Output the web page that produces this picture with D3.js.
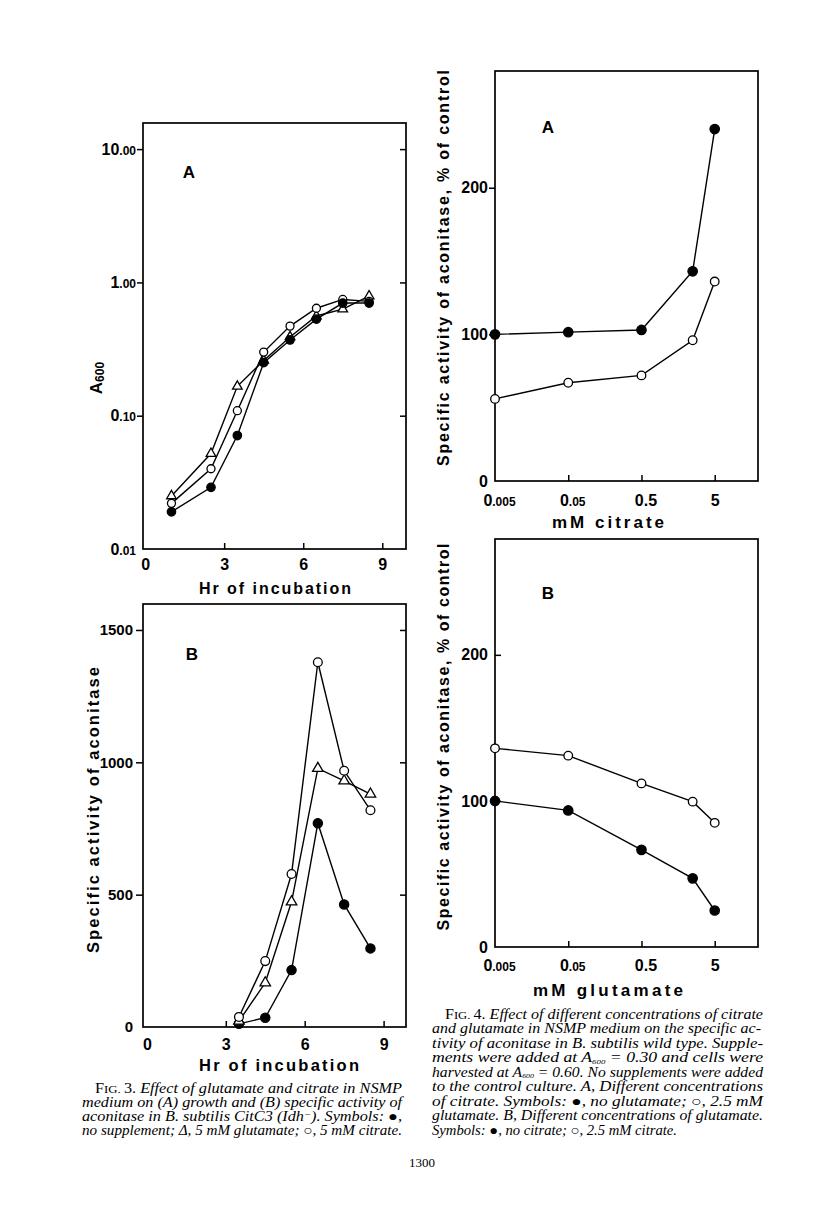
<!DOCTYPE html>
<html><head><meta charset="utf-8">
<script src="https://cdn.jsdelivr.net/npm/d3@7"></script>
<style>body{margin:0;background:#fff}</style>
</head><body><svg id="c" width="816" height="1227"></svg>
<script>
// ---------------- DATA ----------------
// Fig. 3A: growth (A600, log scale) vs hours of incubation
const fig3aHours = [1, 2.5, 3.5, 4.5, 5.5, 6.5, 7.5, 8.5];
const fig3aNoSupplement = [0.019, 0.029, 0.071, 0.25, 0.37, 0.53, 0.70, 0.70];
const fig3aGlutamate   = [0.025, 0.052, 0.166, 0.26, 0.39, 0.56, 0.63, 0.79];
const fig3aCitrate     = [0.022, 0.040, 0.109, 0.30, 0.47, 0.64, 0.745, 0.72];
const fig3aYTicks = [0.01, 0.1, 1, 10];
const fig3aYTickLabels = ["0.01", "0.10", "1.00", "10.00"];
const fig3XTicks = [0, 3, 6, 9];

// Fig. 3B: specific activity of aconitase vs hours
const fig3bHours = [3.5, 4.5, 5.5, 6.5, 7.5, 8.5];
const fig3bNoSupplement = [12, 35, 215, 770, 463, 297];
const fig3bGlutamate   = [22, 167, 473, 977, 930, 880];
const fig3bCitrate     = [38, 249, 578, 1378, 968, 819];
const fig3bYTicks = [0, 500, 1000, 1500];

// Fig. 4: specific activity (% of control) vs mM concentration (log)
const fig4Conc = [0.005, 0.05, 0.5, 2.5, 5];
const fig4XTicks = [0.005, 0.05, 0.5, 5];
const fig4XTickLabels = ["0.005", "0.05", "0.5", "5"];
const fig4YTicks = [0, 100, 200];
const fig4aNoGlutamate = [100, 101.5, 103, 143, 240];
const fig4aGlutamate   = [56, 67, 72, 96, 136];
const fig4bNoCitrate   = [100, 93.5, 66.5, 47, 25];
const fig4bCitrate     = [136, 131, 112, 99.5, 85];

// ---------------- DRAWING ----------------
const SANS = "'Liberation Sans', Arial, Helvetica, sans-serif";
const SERIF = "'Liberation Serif', 'Times New Roman', serif";
const svg = d3.select("#c");
svg.append("rect").attr("width", 816).attr("height", 1227).attr("fill", "#fff");

function splitNum(s) {
  const i = s.indexOf(".");
  if (i < 0) return [s, ""];
  const dec = s.slice(i);
  if (dec.length < 3) return [s, ""];
  return [s.slice(0, i), dec];
}

function styleAxis(g, fs) {
  fs = fs || 16;
  g.attr("font-family", SANS).attr("font-weight", "bold").attr("font-size", fs);
  g.select(".domain").remove();
  g.selectAll(".tick line").attr("stroke", "#000").attr("stroke-width", 1.5);
  g.selectAll(".tick text").attr("fill", "#000").each(function () {
    const t = d3.select(this);
    const [a, b] = splitNum(t.text());
    if (b) {
      t.text(null);
      t.append("tspan").text(a);
      t.append("tspan").attr("font-size", fs * 0.75).text(b);
    }
  });
}

function box(b) {
  svg.append("rect").attr("x", b.L).attr("y", b.T).attr("width", b.R - b.L).attr("height", b.B - b.T)
    .attr("fill", "none").attr("stroke", "#000").attr("stroke-width", 1.7);
}

function drawSeries(x, y, xs, list) {
  const g = svg.append("g");
  const line = d3.line().x(d => x(d.x)).y(d => y(d.y));
  list.forEach(s => {
    const data = xs.map((v, i) => ({ x: v, y: s.values[i] }));
    g.append("path").attr("d", line(data)).attr("fill", "none").attr("stroke", "#000").attr("stroke-width", 1.4);
  });
  list.forEach(s => {
    const data = xs.map((v, i) => ({ x: v, y: s.values[i] }));
    if (s.kind === "triangle") {
      g.selectAll(null).data(data).enter().append("path")
        .attr("d", d3.symbol().type(d3.symbolTriangle).size(s.size))
        .attr("transform", d => `translate(${x(d.x)},${y(d.y)})`)
        .attr("fill", "#fff").attr("stroke", "#000").attr("stroke-width", 1.3);
    } else {
      g.selectAll(null).data(data).enter().append("circle")
        .attr("cx", d => x(d.x)).attr("cy", d => y(d.y)).attr("r", s.size)
        .attr("fill", s.kind === "filled" ? "#000" : "#fff")
        .attr("stroke", "#000").attr("stroke-width", 1.3);
    }
  });
}

function text(x, y, str, opt) {
  const t = svg.append("text").attr("x", x).attr("y", y).text(str)
    .attr("font-family", opt.family || SANS).attr("font-weight", opt.weight || "bold")
    .attr("font-size", opt.size || 16).attr("text-anchor", opt.anchor || "middle").attr("fill", "#000");
  if (opt.rotate) t.attr("transform", `rotate(-90,${x},${y})`);
  if (opt.len) t.attr("textLength", opt.len).attr("lengthAdjust", opt.adjust || "spacing");
  return t;
}

// ===== Fig 3A =====
{
  const b = { L: 143, T: 123, R: 406, B: 549 };
  const x = d3.scaleLinear([-0.08, 9.9], [b.L, b.R]);
  const y = d3.scaleLog([0.01, 15.7], [b.B, b.T]);
  box(b);
  const gx = svg.append("g").attr("transform", `translate(0,${b.B})`)
    .call(d3.axisBottom(x).tickValues(fig3XTicks).tickSize(-6).tickPadding(10).tickFormat(d3.format("d")));
  styleAxis(gx);
  gx.selectAll(".tick").filter(d => d === 0).select("line").remove();
  const gy = svg.append("g").attr("transform", `translate(${b.L},0)`)
    .call(d3.axisLeft(y).tickValues(fig3aYTicks).tickSize(6).tickPadding(1)
      .tickFormat((d, i) => fig3aYTickLabels[i]));
  styleAxis(gy);
  gy.selectAll(".tick").filter(d => d === 0.01).select("line").remove();
  svg.append("g").attr("transform", `translate(${b.R},0)`)
    .call(d3.axisRight(y).tickValues(fig3aYTicks.slice(1)).tickSize(-6).tickFormat(""))
    .call(g => { g.select(".domain").remove(); g.selectAll("line").attr("stroke", "#000").attr("stroke-width", 1.5); });
  drawSeries(x, y, fig3aHours, [
    { values: fig3aGlutamate, kind: "triangle", size: 40 },
    { values: fig3aCitrate, kind: "open", size: 4 },
    { values: fig3aNoSupplement, kind: "filled", size: 4.2 }
  ]);
  text(189, 178, "A", { size: 17 });
  const a = text(102, 378, "A", { size: 17, rotate: true });
  a.append("tspan").attr("font-size", 12).attr("dy", 2).text("600");
  text(275, 594, "Hr of incubation", { size: 16, len: 152 });
}

// ===== Fig 3B =====
{
  const b = { L: 143, T: 604, R: 406, B: 1027 };
  const x = d3.scaleLinear([0, 10], [146.9, 409.9]);
  const y = d3.scaleLinear([0, 1600], [b.B, 603.5]);
  box(b);
  const gx = svg.append("g").attr("transform", `translate(0,${b.B})`)
    .call(d3.axisBottom(x).tickValues(fig3XTicks).tickSize(-6).tickPadding(12).tickFormat(d3.format("d")));
  styleAxis(gx);
  gx.selectAll(".tick").filter(d => d === 0).select("line").remove();
  const gy = svg.append("g").attr("transform", `translate(${b.L},0)`)
    .call(d3.axisLeft(y).tickValues(fig3bYTicks).tickSize(7).tickPadding(3).tickFormat(d3.format("d")));
  styleAxis(gy, 15);
  gy.selectAll(".tick").filter(d => d === 0).select("line").remove();
  svg.append("g").attr("transform", `translate(${b.R},0)`)
    .call(d3.axisRight(y).tickValues(fig3bYTicks.slice(1)).tickSize(-6).tickFormat(""))
    .call(g => { g.select(".domain").remove(); g.selectAll("line").attr("stroke", "#000").attr("stroke-width", 1.5); });
  drawSeries(x, y, fig3bHours, [
    { values: fig3bNoSupplement, kind: "filled", size: 4.6 },
    { values: fig3bGlutamate, kind: "triangle", size: 48 },
    { values: fig3bCitrate, kind: "open", size: 4.4 }
  ]);
  text(192, 660, "B", { size: 17 });
  text(99, 810, "Specific activity of aconitase", { size: 16.5, rotate: true, len: 286 });
  text(279, 1071, "Hr of incubation", { size: 16.5, len: 160 });
}

// ===== Fig 4A / 4B =====
function fig4Panel(b, yTop, leftTickSize, leftPad, series, label, labelY, xTitle, xTitleLen, xTitleY, yTitleY, yTitleLen, tickPad) {
  const x = d3.scaleLog([0.005, 19.5], [b.L, b.R]);
  const y = d3.scaleLinear([0, yTop], [b.B, b.T]);
  box(b);
  const gx = svg.append("g").attr("transform", `translate(0,${b.B})`)
    .call(d3.axisBottom(x).tickValues(fig4XTicks).tickSize(-6).tickPadding(tickPad)
      .tickFormat((d, i) => fig4XTickLabels[i]));
  styleAxis(gx);
  gx.selectAll(".tick text").attr("dx", (d, i) => i < 3 ? 4 : 0);
  gx.selectAll(".tick").filter(d => d === 0.005).select("line").remove();
  const gy = svg.append("g").attr("transform", `translate(${b.L},0)`)
    .call(d3.axisLeft(y).tickValues(fig4YTicks).tickSize(leftTickSize).tickPadding(leftPad).tickFormat(d3.format("d")));
  styleAxis(gy);
  gy.selectAll(".tick").filter(d => d === 0).select("line").remove();
  drawSeries(x, y, fig4Conc, series);
  text(548, labelY, label, { size: 17 });
  text(608, xTitleY, xTitle, { size: 17, len: xTitleLen });
  text(449, yTitleY, "Specific activity of aconitase, % of control", { size: 16, rotate: true, len: yTitleLen });
}
fig4Panel({ L: 495, T: 71, R: 758, B: 481 }, 279.6, 6, 1, [
  { values: fig4aNoGlutamate, kind: "filled", size: 4.7 },
  { values: fig4aGlutamate, kind: "open", size: 4.3 }
], "A", 133, "mM citrate", 112, 528, 268, 396, 14);
fig4Panel({ L: 495, T: 539, R: 758, B: 947 }, 279.3, -6, 7, [
  { values: fig4bNoCitrate, kind: "filled", size: 4.7 },
  { values: fig4bCitrate, kind: "open", size: 4.3 }
], "B", 599, "mM glutamate", 150, 996, 737, 387, 13);

// ---------------- CAPTIONS ----------------
function capLine(x, y, len, parts) {
  const t = svg.append("text").attr("x", x).attr("y", y).attr("font-family", SERIF)
    .attr("font-size", 14).attr("fill", "#000");
  parts.forEach(p => {
    const o = typeof p === "string" ? { t: p } : p;
    const s = t.append("tspan").text(o.t)
      .attr("font-style", o.up ? "normal" : "italic");
    if (o.size) s.attr("font-size", o.size);
    if (o.dy) s.attr("dy", o.dy);
  });
  if (len) t.attr("textLength", len).attr("lengthAdjust", "spacingAndGlyphs");
}
const scF = [{ t: "F", up: true }, { t: "IG. ", up: true, size: 11 }];
capLine(95, 1093, 307, [...scF, { t: "3. ", up: true }, "Effect of glutamate and citrate in NSMP"]);
capLine(82, 1107, 320, ["medium on (A) growth and (B) specific activity of"]);
capLine(82, 1121, 320, ["aconitase in B. subtilis CitC3 (Idh", { t: "−", size: 9, dy: -4 }, { t: "). Symbols: ●,", dy: 4 }]);
capLine(82, 1135, 320, ["no supplement; Δ, 5 mM glutamate; ○, 5 mM citrate."]);

const fx = 432, fl = 331, fy0 = 1019, fdy = 14.45;
capLine(445, fy0, 318, [...scF, { t: "4. ", up: true }, "Effect of different concentrations of citrate"]);
capLine(fx, fy0 + fdy, fl - 2, ["and glutamate in NSMP medium on the specific ac-"]);
capLine(fx, fy0 + 2 * fdy, fl, ["tivity of aconitase in B. subtilis wild type. Supple-"]);
capLine(fx, fy0 + 3 * fdy, fl, ["ments were added at A", { t: "600", size: 7, dy: 1.5 }, { t: " = 0.30 and cells were", dy: -1.5 }]);
capLine(fx, fy0 + 4 * fdy, fl, ["harvested at A", { t: "600", size: 7, dy: 1.5 }, { t: " = 0.60. No supplements were added", dy: -1.5 }]);
capLine(fx, fy0 + 5 * fdy, fl, ["to the control culture. A, Different concentrations"]);
capLine(fx, fy0 + 6 * fdy, fl, ["of citrate. Symbols: ●, no glutamate; ○, 2.5 mM"]);
capLine(fx, fy0 + 7 * fdy, fl, ["glutamate. B, Different concentrations of glutamate."]);
capLine(fx, fy0 + 8 * fdy, 245, ["Symbols: ●, no citrate; ○, 2.5 mM citrate."]);

svg.append("text").attr("x", 422).attr("y", 1167).attr("text-anchor", "middle")
  .attr("font-family", SERIF).attr("font-size", 13).text("1300");
</script></body></html>
